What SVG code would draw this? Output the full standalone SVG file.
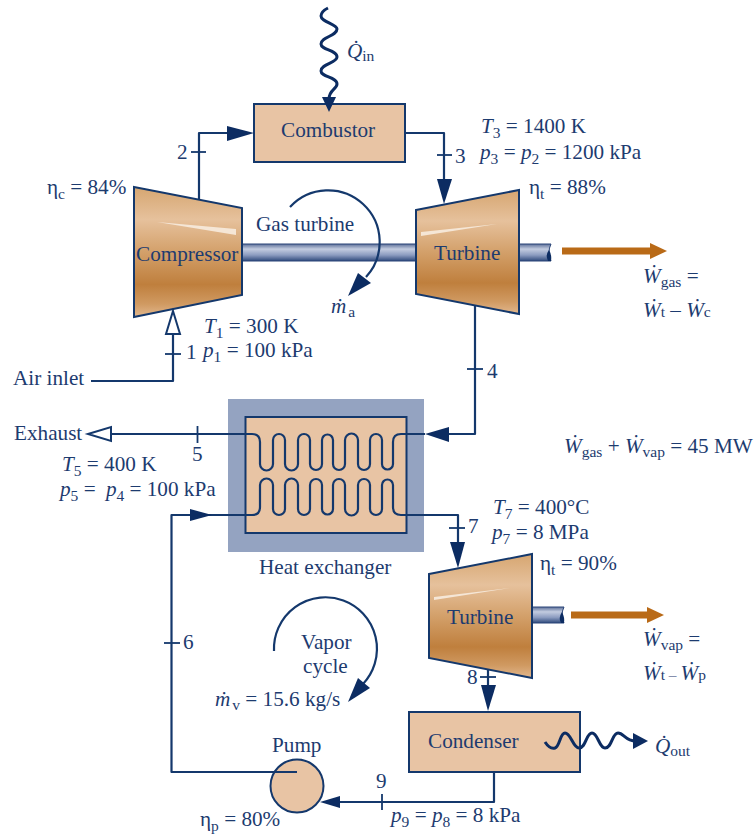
<svg xmlns="http://www.w3.org/2000/svg" width="755" height="834" viewBox="0 0 755 834">
<style>
text{font-family:"Liberation Serif","Times New Roman",serif;font-size:21.2px;fill:#1d3b6f}
.i{font-style:italic}
.s{font-size:15.5px}
.b{fill:#e8c4a4;stroke:#14386c;stroke-width:2}
.l{fill:none;stroke:#14386c;stroke-width:1.8}
.c{fill:none;stroke:#14386c;stroke-width:2.2;stroke-linejoin:round}
.w{fill:none;stroke:#0c2c62;stroke-width:3}
.h{fill:#0c2c62}
.o{fill:#fff;stroke:#14386c;stroke-width:2}
.t{fill:url(#brass);stroke:#14386c;stroke-width:2}
.f{fill:#f5e6d6}
.sh{fill:url(#shaft);stroke:#2a4578;stroke-width:1}
.p{fill:none;stroke:#b96a17;stroke-width:7}
.q{fill:#b96a17}
</style>
<defs>
<linearGradient id="brass" x1="0" y1="0" x2="0" y2="1">
<stop offset="0" stop-color="#d6a671"/><stop offset=".25" stop-color="#e6c19c"/><stop offset=".5" stop-color="#d3a06a"/><stop offset=".75" stop-color="#bf7f3d"/><stop offset=".9" stop-color="#d09a62"/><stop offset="1" stop-color="#e2b88e"/>
</linearGradient>
<linearGradient id="shaft" x1="0" y1="0" x2="0" y2="1">
<stop offset="0" stop-color="#5d7099"/><stop offset=".3" stop-color="#c3cce0"/><stop offset=".65" stop-color="#8c9cc0"/><stop offset="1" stop-color="#2f4a7c"/>
</linearGradient>
</defs>

<g id="heat-exchanger">
<rect x="228" y="399" width="196" height="153" fill="#94a3c1"/>
<rect class="b" x="245.500" y="417" width="161" height="116"/>
<text x="259" y="574">Heat exchanger</text>
</g>
<g id="combustor"><rect class="b" x="254" y="104" width="151" height="58"/><text x="281" y="137">Combustor</text></g>
<g id="shaft-gas"><rect class="sh" x="240" y="244" width="180" height="17"/>
<path class="sh" d="M517 244H551Q547 252 551 261H517Z"/><path class="h" d="M549 250Q545 255 548 261H551Q552 255 549 250Z"/></g>
<g id="compressor"><path class="t" d="M134 187L242 208V295L134 317Z"/><path class="f" d="M157 222L236 229V235Z"/><text x="136" y="261">Compressor</text></g>
<g id="turbine-gas"><path class="t" d="M416 210L519 190V314L416 294Z"/><path class="f" d="M421 232L497 224L421 236Z"/><text x="434" y="260">Turbine</text></g>
<g id="shaft-vapor"><path class="sh" d="M530 607H564Q560 615 564 623H530Z"/><path class="h" d="M562 612Q558 618 561 623H564Q565 618 562 612Z"/></g>
<g id="turbine-vapor"><path class="t" d="M429 574L532 554V678L429 658Z"/><path class="f" d="M434 597L510 588L434 600Z"/><text x="447" y="624">Turbine</text></g>
<g id="condenser"><rect class="b" x="409" y="712" width="171" height="60"/><text x="428" y="748">Condenser</text></g>
<g id="pump"><circle class="b" cx="297" cy="786" r="26.500"/><text x="272" y="752">Pump</text></g>

<g id="connectors">
<path class="c" d="M199 200V133H232"/><path class="h" d="M227 126L254 133L227 141Z"/>
<path class="l" d="M191 152H206"/>
<path class="c" d="M405 133H444V182"/><path class="h" d="M437 179H452L444 204Z"/>
<path class="l" d="M437 155H452"/>
<path class="c" d="M475 306V434H445"/><path class="h" d="M425 434L449 427V442Z"/>
<path class="l" d="M467 369H483"/>
<path class="c" d="M91 381H173V334"/><path class="o" d="M173 311L180 334H166Z"/>
<path class="l" d="M165 354H181"/>
<path class="c" d="M111 434H252Q260 434 260 442V464A6.500 6.500 0 0 0 273 464V440A6 6 0 0 1 285 440V464A6.500 6.500 0 0 0 298 464V440A6 6 0 0 1 310 440V464A6 6 0 0 0 322 464V440A5.500 5.500 0 0 1 333 440V464A6 6 0 0 0 345 464V440A6.500 6.500 0 0 1 358 440V464A6 6 0 0 0 370 464V440A6 6 0 0 1 382 440V464A5.500 5.500 0 0 0 393 464V442Q393 434 401 434H425"/>
<path class="o" d="M88 434L111 427V441Z"/>
<path class="l" d="M197.500 426V443"/>
<path class="c" d="M297 772H171.500V515H252Q260 515 260 507V485A6.500 6.500 0 0 1 273 485V509A6 6 0 0 0 285 509V485A6.500 6.500 0 0 1 298 485V509A6 6 0 0 0 310 509V485A6 6 0 0 1 322 485V509A5.500 5.500 0 0 0 333 509V485A6 6 0 0 1 345 485V509A6.500 6.500 0 0 0 358 509V485A6 6 0 0 1 370 485V509A6 6 0 0 0 382 509V485A5.500 5.500 0 0 1 393 485V507Q393 515 401 515H458V545"/>
<path class="h" d="M190 509L212 515L190 521Z"/>
<path class="l" d="M164 643H180"/>
<path class="h" d="M450 542H465L458 568Z"/>
<path class="l" d="M449 528H465"/>
<path class="c" d="M488 670V688"/><path class="h" d="M481 685H496L488 711Z"/>
<path class="l" d="M480 677H496"/>
<path class="c" d="M494 772V802H338"/><path class="h" d="M320 802L340 796V808Z"/>
<path class="l" d="M382 794V810"/>
<path class="w" d="M328 8C324 10 321 12 321 16C321 22 337 24 337 29C337 36 321 37 321 44C321 50 337 50 337 57C337 63 321 64 321 71C321 77 337 77 337 84C337 89 329 90 329 99"/>
<path class="h" d="M322 97H336L329 112Z"/>
<path class="w" d="M545 742C549 748 552 749 555 748C560 746 560 733 565 733C571 733 573 748 579 748C586 748 586 733 592 733C598 733 599 748 605 748C612 748 612 733 618 733C624 733 625 741 636 741"/>
<path class="h" d="M633 733L648 741L633 749Z"/>
<path class="p" d="M562 251H652"/><path class="q" d="M650 243L667 251L650 259Z"/>
<path class="p" d="M571 615H649"/><path class="q" d="M647 607L664 615L647 623Z"/>
<path class="c" d="M290 207A51 51 0 0 1 366 277"/><path class="h" d="M348 296L358 273L371 283Z"/>
<path class="c" d="M274 651A51.500 51.500 0 1 1 363 684"/><path class="h" d="M348 702L358 678L370 688Z"/>
</g>

<g id="labels">
<text x="177" y="159">2</text>
<text x="455" y="163">3</text>
<text x="487" y="378">4</text>
<text x="192" y="461">5</text>
<text x="183" y="649">6</text>
<text x="468" y="533">7</text>
<text x="467" y="684">8</text>
<text x="376" y="788">9</text>
<text x="186" y="359">1</text>
<text x="13" y="385">Air inlet</text>
<text x="14" y="440">Exhaust</text>
<text x="256" y="231">Gas turbine</text>
<text x="301" y="649">Vapor</text>
<text x="303" y="673">cycle</text>
<text x="47" y="194">η<tspan class="s" dy="5">c</tspan><tspan dy="-5"> = 84%</tspan></text>
<text x="529" y="194">η<tspan class="s" dy="5">t</tspan><tspan dy="-5"> = 88%</tspan></text>
<text x="540" y="570">η<tspan class="s" dy="5">t</tspan><tspan dy="-5"> = 90%</tspan></text>
<text x="200" y="826">η<tspan class="s" dy="5">p</tspan><tspan dy="-5"> = 80%</tspan></text>
<text x="204" y="333"><tspan class="i">T</tspan><tspan class="s" dy="5">1</tspan><tspan dy="-5"> = 300 K</tspan></text>
<text x="203" y="357"><tspan class="i">p</tspan><tspan class="s" dy="5">1</tspan><tspan dy="-5"> = 100 kPa</tspan></text>
<text x="481" y="133"><tspan class="i">T</tspan><tspan class="s" dy="5">3</tspan><tspan dy="-5"> = 1400 K</tspan></text>
<text x="480" y="159"><tspan class="i">p</tspan><tspan class="s" dy="5">3</tspan><tspan dy="-5"> = </tspan><tspan class="i">p</tspan><tspan class="s" dy="5">2</tspan><tspan dy="-5"> = 1200 kPa</tspan></text>
<text x="62" y="471"><tspan class="i">T</tspan><tspan class="s" dy="5">5</tspan><tspan dy="-5"> = 400 K</tspan></text>
<text x="60" y="496"><tspan class="i">p</tspan><tspan class="s" dy="5">5</tspan><tspan dy="-5"> =  </tspan><tspan class="i" dx="5">p</tspan><tspan class="s" dy="5">4</tspan><tspan dy="-5"> = 100 kPa</tspan></text>
<text x="493" y="514"><tspan class="i">T</tspan><tspan class="s" dy="5">7</tspan><tspan dy="-5"> = 400°C</tspan></text>
<text x="492" y="539"><tspan class="i">p</tspan><tspan class="s" dy="5">7</tspan><tspan dy="-5"> = 8 MPa</tspan></text>
<text x="391" y="822"><tspan class="i">p</tspan><tspan class="s" dy="5">9</tspan><tspan dy="-5"> = </tspan><tspan class="i">p</tspan><tspan class="s" dy="5">8</tspan><tspan dy="-5"> = 8 kPa</tspan></text>
<text x="347" y="58"><tspan class="i">Q̇</tspan><tspan class="s" dy="3">in</tspan></text>
<text x="655" y="753"><tspan class="i">Q̇</tspan><tspan class="s" dy="3">out</tspan></text>
<text x="331" y="313"><tspan class="i">ṁ</tspan><tspan class="s" dx="2" dy="4">a</tspan></text>
<text x="215" y="706"><tspan class="i">ṁ</tspan><tspan class="s" dx="2" dy="4">v</tspan><tspan dy="-4"> = 15.6 kg/s</tspan></text>
<text x="643" y="283"><tspan class="i">Ẇ</tspan><tspan class="s" dy="4">gas</tspan><tspan dy="-4"> =</tspan></text>
<text x="643" y="317"><tspan class="i">Ẇ</tspan><tspan class="s">t</tspan> – <tspan class="i">Ẇ</tspan><tspan class="s">c</tspan></text>
<text x="643" y="646"><tspan class="i">Ẇ</tspan><tspan class="s" dy="4">vap</tspan><tspan dy="-4"> =</tspan></text>
<text x="643" y="680"><tspan class="i">Ẇ</tspan><tspan class="s">t</tspan><tspan class="s"> – </tspan><tspan class="i">Ẇ</tspan><tspan class="s">p</tspan></text>
<text x="564" y="453"><tspan class="i">Ẇ</tspan><tspan class="s" dy="4">gas</tspan><tspan dy="-4"> + </tspan><tspan class="i">Ẇ</tspan><tspan class="s" dy="4">vap</tspan><tspan dy="-4"> = 45 MW</tspan></text>
</g>
</svg>
